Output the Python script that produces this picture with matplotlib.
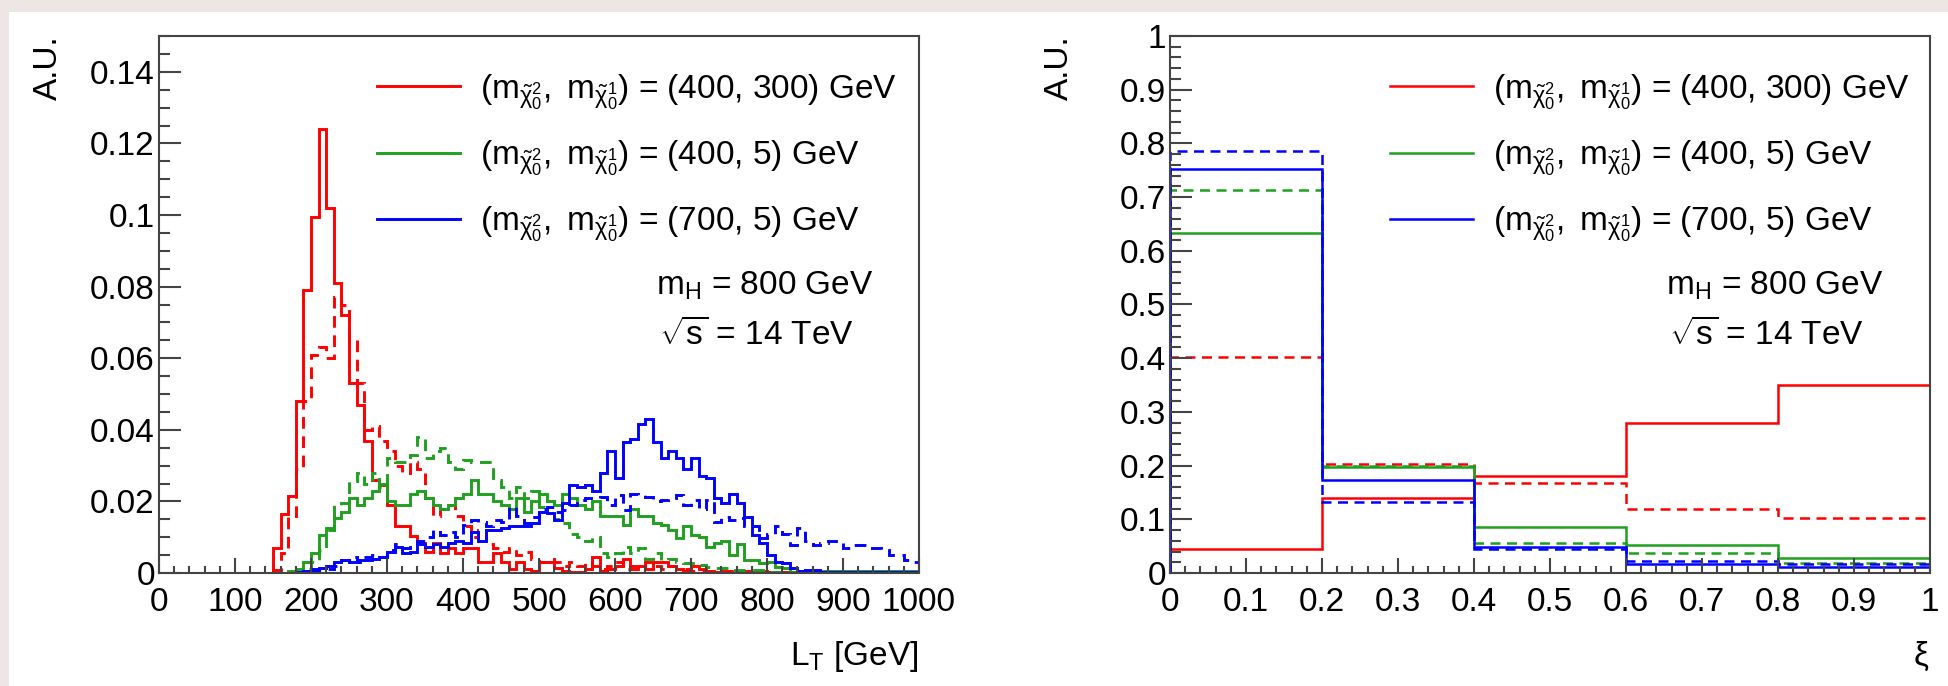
import numpy as np
import matplotlib
matplotlib.use('Agg')
import matplotlib.pyplot as plt
from matplotlib.patches import Rectangle
from matplotlib.ticker import MultipleLocator, FuncFormatter

plt.rcParams['font.family'] = ['Liberation Sans', 'DejaVu Sans']
plt.rcParams['mathtext.fontset'] = 'custom'
plt.rcParams['mathtext.rm'] = 'Liberation Sans'
plt.rcParams['mathtext.it'] = 'Liberation Sans'
plt.rcParams['mathtext.bf'] = 'Liberation Sans:bold'

# L_T histograms, 100 bins of 10 GeV from 0 to 1000
lt_edges = np.linspace(0, 1000, 101)

lt_red = [0]*15 + [
    0.007, 0.0165, 0.0214, 0.048, 0.079, 0.0995, 0.124, 0.102, 0.081, 0.072,
    0.053, 0.047, 0.037, 0.026, 0.0245, 0.019, 0.013, 0.013, 0.0104, 0.0083,
    0.006, 0.0083, 0.0055, 0.007, 0.0055, 0.007, 0.007, 0.003, 0.003, 0.0055,
    0.003, 0.001, 0.003, 0.001, 0.0005, 0.003, 0.003, 0.0015, 0.0005, 0.0002,
    0.0002, 0.001, 0.0045, 0.0005, 0.001, 0.002, 0.004, 0.001, 0.002, 0.001,
    0.003, 0.003, 0.002, 0.001, 0.0005, 0.002, 0.001, 0.0005] + [0.0002]*27

lt_red_dash = [0]*15 + [
    0.0008, 0.0055, 0.016, 0.029, 0.048, 0.061, 0.063, 0.060, 0.077, 0.075,
    0.065, 0.053, 0.040, 0.041, 0.037, 0.034, 0.030, 0.028, 0.031, 0.029,
    0.021, 0.016, 0.018, 0.019, 0.016, 0.013, 0.010, 0.012, 0.008, 0.007,
    0.006, 0.007, 0.005, 0.006, 0.004, 0.003, 0.004, 0.003, 0.002, 0.003,
    0.002, 0.003, 0.002, 0.001, 0.002, 0.003, 0.001, 0.002, 0.002, 0.003,
    0.002, 0.001, 0.002, 0.001, 0.001] + [0.0005]*10 + [0.0002]*20

lt_green = [0]*17 + [
    0.0005, 0.001, 0.003, 0.0055, 0.0106, 0.0125, 0.0153, 0.017, 0.021, 0.019,
    0.021, 0.023, 0.025, 0.020, 0.019, 0.019, 0.022, 0.023, 0.021, 0.019,
    0.018, 0.019, 0.021, 0.022, 0.026, 0.022, 0.022, 0.020, 0.019, 0.018,
    0.021, 0.017, 0.020, 0.022, 0.020, 0.019, 0.022, 0.021, 0.019, 0.018,
    0.020, 0.016, 0.016, 0.016, 0.0134, 0.018, 0.016, 0.016, 0.014, 0.0135,
    0.012, 0.0097, 0.013, 0.0106, 0.010, 0.0074, 0.0083, 0.009, 0.005, 0.008,
    0.0036, 0.0036, 0.0027, 0.003, 0.0018, 0.0013, 0.0004, 0.0002] + [0.0006]*15

lt_green_dash = [0]*19 + [
    0.001, 0.003, 0.0064, 0.012, 0.019, 0.0195, 0.0257, 0.028, 0.025, 0.028,
    0.024, 0.032, 0.031, 0.031, 0.033, 0.038, 0.032, 0.034, 0.035, 0.031,
    0.029, 0.0316, 0.031, 0.031, 0.031, 0.026, 0.024, 0.021, 0.024, 0.021,
    0.023, 0.0185, 0.020, 0.015, 0.014, 0.011, 0.010, 0.0088, 0.010, 0.0055,
    0.0046, 0.0055, 0.0074, 0.0055, 0.007, 0.004, 0.0055, 0.0036, 0.004, 0.003,
    0.0027, 0.0029, 0.0022, 0.0018, 0.0013, 0.0013, 0.0008, 0.0008, 0.0008, 0.0008,
    0.0008] + [0.0004]*20

lt_blue = [0]*18 + [
    0.0003, 0.0005, 0.001, 0.0015, 0.002, 0.003, 0.0035, 0.003, 0.0036, 0.0036,
    0.004, 0.0045, 0.006, 0.0074, 0.0055, 0.006, 0.008, 0.0074, 0.008, 0.0074,
    0.0083, 0.009, 0.0083, 0.0115, 0.0088, 0.012, 0.012, 0.0125, 0.013, 0.013,
    0.013, 0.014, 0.017, 0.0167, 0.0148, 0.0195, 0.0246, 0.024, 0.0246, 0.023,
    0.028, 0.034, 0.0265, 0.0367, 0.0373, 0.0415, 0.043, 0.0365, 0.032, 0.034,
    0.032, 0.029, 0.032, 0.027, 0.0266, 0.021, 0.0195, 0.022, 0.0195, 0.0157,
    0.0106, 0.0083, 0.005, 0.0032, 0.0027, 0.0013, 0.0005, 0.0008, 0.0008] + [0.0003]*13

lt_blue_dash = [0]*20 + [
    0.0005, 0.001, 0.001, 0.002, 0.0036, 0.0045, 0.003, 0.0045, 0.005, 0.0045,
    0.0064, 0.008, 0.007, 0.008, 0.009, 0.010, 0.012, 0.0106, 0.0115, 0.010,
    0.0134, 0.0148, 0.0143, 0.013, 0.0148, 0.0143, 0.0185, 0.016, 0.014, 0.0157,
    0.018, 0.0185, 0.017, 0.0175, 0.019, 0.0204, 0.021, 0.021, 0.0213, 0.019,
    0.0218, 0.0176, 0.0222, 0.0218, 0.0213, 0.020, 0.0204, 0.021, 0.0218, 0.019,
    0.0204, 0.018, 0.0204, 0.0143, 0.0157, 0.0148, 0.0153, 0.013, 0.013, 0.0097,
    0.011, 0.013, 0.011, 0.0078, 0.0125, 0.0088, 0.0078, 0.0083, 0.0088, 0.0088,
    0.0069, 0.0078, 0.0077, 0.0069, 0.0069, 0.0064, 0.005, 0.005, 0.0036, 0.0032]

# xi histograms, 5 bins
xi_edges = [0, 0.2, 0.4, 0.6, 0.8, 1.0]
xi_red = [0.045, 0.139, 0.180, 0.280, 0.351]
xi_red_dash = [0.402, 0.203, 0.168, 0.120, 0.103]
xi_green = [0.634, 0.197, 0.085, 0.053, 0.028]
xi_green_dash = [0.714, 0.200, 0.055, 0.038, 0.019]
xi_blue = [0.752, 0.173, 0.049, 0.016, 0.0106]
xi_blue_dash = [0.785, 0.1325, 0.044, 0.0228, 0.016]

labels = [
    r'$(\mathrm{m}_{\tilde{\chi}^{2}_{0}},\ \mathrm{m}_{\tilde{\chi}^{1}_{0}})$ = (400, 300) GeV',
    r'$(\mathrm{m}_{\tilde{\chi}^{2}_{0}},\ \mathrm{m}_{\tilde{\chi}^{1}_{0}})$ = (400, 5) GeV',
    r'$(\mathrm{m}_{\tilde{\chi}^{2}_{0}},\ \mathrm{m}_{\tilde{\chi}^{1}_{0}})$ = (700, 5) GeV',
]
colors = ['#ff0000', '#1fa01f', '#0000ff']
dash = (0, (4, 2.6))

W, H = 1949, 686
fig = plt.figure(figsize=(W / 100, H / 100), dpi=100, facecolor='#eee6e5')
fig.patches.append(Rectangle((9 / W, 0), 1, 1 - 12 / H, transform=fig.transFigure,
                             facecolor='white', edgecolor='none', zorder=-10))

fs = 24


def fmt(v, pos):
    return '%g' % round(v, 4)


def style_axes(ax, xmaj, xmin, ymaj, ymin):
    ax.patch.set_alpha(0)
    ax.xaxis.set_major_locator(MultipleLocator(xmaj))
    ax.xaxis.set_minor_locator(MultipleLocator(xmin))
    ax.yaxis.set_major_locator(MultipleLocator(ymaj))
    ax.yaxis.set_minor_locator(MultipleLocator(ymin))
    ax.xaxis.set_major_formatter(FuncFormatter(fmt))
    ax.yaxis.set_major_formatter(FuncFormatter(fmt))
    ax.tick_params(axis='both', which='both', direction='in', color='#444444', width=1.5,
                   labelsize=fs, top=False, right=False)
    ax.tick_params(axis='x', which='major', length=11, pad=10)
    ax.tick_params(axis='x', which='minor', length=5)
    ax.tick_params(axis='y', which='major', length=16, pad=3)
    ax.tick_params(axis='y', which='minor', length=8)
    for s in ax.spines.values():
        s.set_color('#444444')
        s.set_linewidth(1.5)


def draw(ax, edges, series, lw):
    handles = []
    for (sol, dsh), c in zip(series, colors):
        ax.stairs(dsh, edges, color=c, lw=lw, linestyle=dash, baseline=0)
        h = ax.stairs(sol, edges, color=c, lw=lw, baseline=0)
        handles.append(h)
    return handles


def px(x, y):
    return x / W, 1 - y / H


# left panel
ax1 = fig.add_axes([159 / W, 113 / H, 760 / W, 537 / H])
h1 = draw(ax1, lt_edges, [(lt_red, lt_red_dash), (lt_green, lt_green_dash),
                          (lt_blue, lt_blue_dash)], 2.1)
ax1.set_xlim(0, 1000)
ax1.set_ylim(0, 0.15)
style_axes(ax1, 100, 20, 0.02, 0.005)

# right panel
ax2 = fig.add_axes([1170 / W, 113 / H, 760 / W, 537 / H])
h2 = draw(ax2, xi_edges, [(xi_red, xi_red_dash), (xi_green, xi_green_dash),
                          (xi_blue, xi_blue_dash)], 1.8)
ax2.set_xlim(0, 1)
ax2.set_ylim(0, 1)
style_axes(ax2, 0.1, 0.02, 0.1, 0.02)

for ax, hs, lx, tx in [(ax1, h1, 377, 656), (ax2, h2, 1390, 1666)]:
    ax.legend(hs, labels, loc='upper left', bbox_to_anchor=px(lx, 72),
              bbox_transform=fig.transFigure, frameon=False, fontsize=fs,
              handlelength=2.5, handletextpad=0.6, labelspacing=0.8,
              borderpad=0, borderaxespad=0)
    fig.text(*px(tx, 286), r'$\mathrm{m}_{\mathrm{H}}$ = 800 GeV', fontsize=fs,
             ha='left', va='center')
    fig.text(*px(tx + 3, 335), r'$\sqrt{\mathrm{s}}$ = 14 TeV', fontsize=fs,
             ha='left', va='center')

fig.text(*px(48, 35), 'A.U.', fontsize=fs, rotation=90, ha='center', va='top')
fig.text(*px(1059, 35), 'A.U.', fontsize=fs, rotation=90, ha='center', va='top')
fig.text(*px(918, 656), r'L$_{\mathrm{T}}$ [GeV]', fontsize=fs, ha='right', va='center')
fig.text(*px(1929, 656), 'ξ', fontsize=fs, ha='right', va='center')

fig.savefig('out.png', dpi=100, facecolor=fig.get_facecolor())
